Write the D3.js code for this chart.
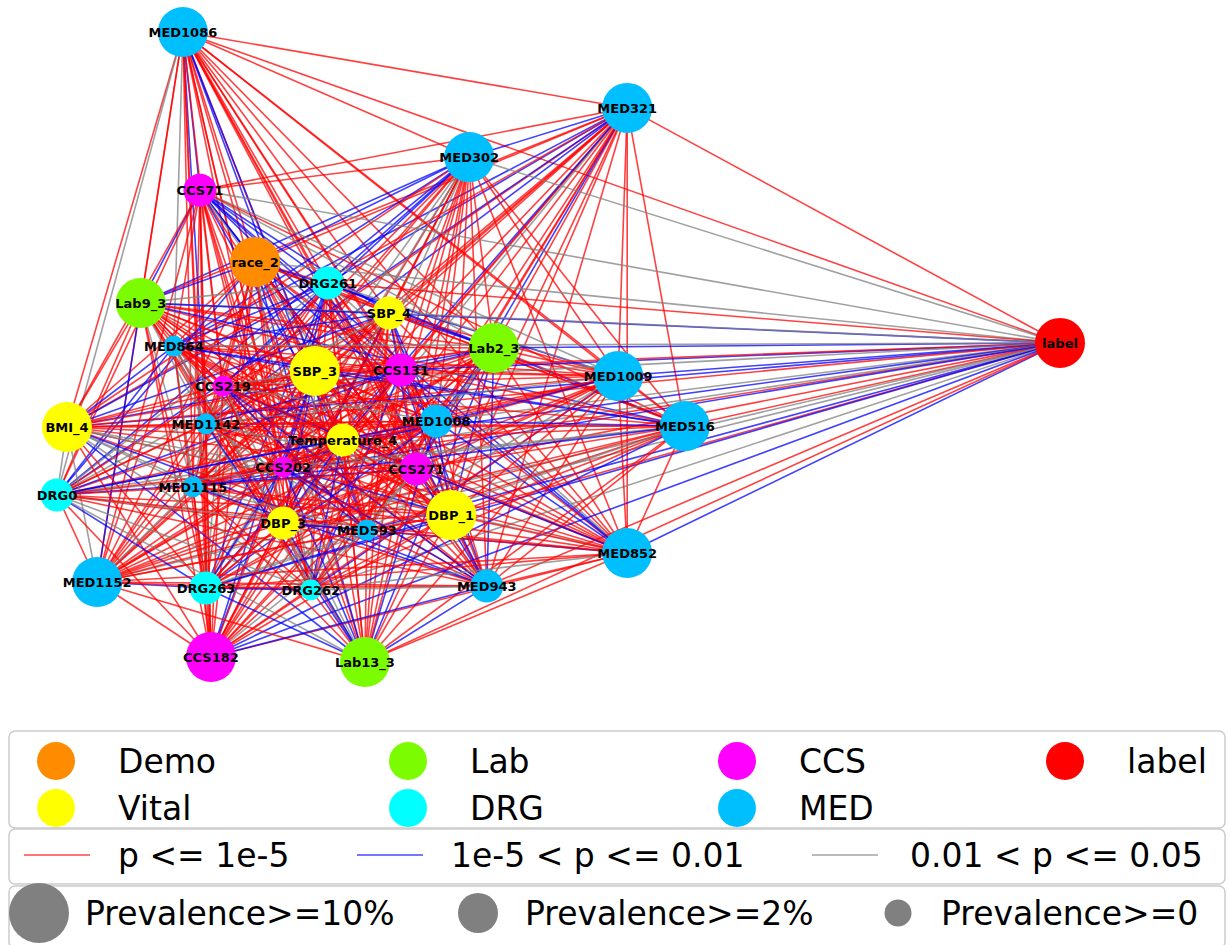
<!DOCTYPE html>
<html><head><meta charset="utf-8">
<script src="https://cdn.jsdelivr.net/npm/d3@7"></script>
<style>body{margin:0;background:#fff}svg{display:block}</style>
</head><body><svg id="chart" width="1230" height="945"></svg>
<script>
// ---------- data ----------
const nodeNames = ["MED1086","MED321","MED302","CCS71","race_2","DRG261","Lab9_3","SBP_4","Lab2_3","label",
  "MED864","CCS131","SBP_3","MED1009","CCS219","BMI_4","MED1142","MED1008","MED516","Temperature_4",
  "CCS202","CCS271","DRG0","MED1115","DBP_1","DBP_3","MED593","MED852","MED1152","DRG263",
  "DRG262","MED943","CCS182","Lab13_3"];
const nodeGroups = ["MED","MED","MED","CCS","Demo","DRG","Lab","Vital","Lab","label",
  "MED","CCS","Vital","MED","CCS","Vital","MED","MED","MED","Vital",
  "CCS","CCS","DRG","MED","Vital","Vital","MED","MED","MED","DRG",
  "DRG","MED","CCS","Lab"];
const nodePrevalence = ["10%","10%","10%","2%","10%","2%","10%","2%","10%","10%",
  "0","2%","10%","10%","0","10%","0","2%","10%","2%",
  "0","2%","2%","0","10%","2%","0","10%","10%","2%",
  "0","2%","10%","10%"];
// layout coordinates (spring layout space, y up)
const layoutX = [-0.749,0.137,-0.178,-0.715,-0.605,-0.460,-0.833,-0.338,-0.129,1.000,
  -0.767,-0.314,-0.486,0.119,-0.669,-0.980,-0.703,-0.244,0.252,-0.430,
  -0.549,-0.284,-1.000,-0.729,-0.214,-0.549,-0.382,0.137,-0.920,-0.703,
  -0.494,-0.143,-0.693,-0.386];
const layoutY = [1.000,0.759,0.603,0.498,0.270,0.203,0.140,0.108,-0.003,0.013,
  0.003,-0.073,-0.076,-0.092,-0.124,-0.254,-0.244,-0.235,-0.251,-0.295,
  -0.381,-0.387,-0.470,-0.444,-0.533,-0.559,-0.581,-0.654,-0.746,-0.765,
  -0.771,-0.759,-0.984,-1.000];
// p-value class of edge i-j (upper triangle, row i lists j=i+1..33): 1: p<=1e-5, 2: 1e-5<p<=0.01, 3: 0.01<p<=0.05, 0: none
const pClassRows = [
  "11211 11113 11111 21121 13111 21111 111",
  "21121 11121 11112 11112 21131 11211 11",
  "12223 13213 12111 13112 11111 13111 1",
  "22223 31213 11121 21211 21121 11311",
  "12113 11121 11211 11211 12111 3112",
  "31212 11322 11212 13121 13121 121",
  "31211 11113 12111 13111 12111 11",
  "23211 11212 11123 11211 13121 1",
  "21211 12121 11211 21311 13212",
  "32123 21312 11321 32232 3121",
  "12112 31213 12313 11131 113",
  "11112 11211 21211 21121 11",
  "13111 21211 11211 11312 1",
  "11311 11112 11311 12111",
  "11311 12111 12113 1213",
  "11113 13313 13313 212",
  "11113 13113 11131 12",
  "21112 12112 12111 2",
  "13132 11111 31121",
  "11211 21111 2111",
  "11121 21121 212",
  "21113 21132 11",
  "11131 12311 3",
  "11313 11211",
  "11112 1211",
  "12113 112",
  "11311 31",
  "11311 1",
  "21111",
  "2112",
  "311",
  "22",
  "0"
];
const groupOrder = ["Demo","Vital","Lab","DRG","CCS","MED","label"];
const groupColors = ["#ff8c00","#ffff00","#7cfc00","#00ffff","#ff00ff","#00bfff","#ff0000"];
const pClassCodes = ["1","2","3"];
const pClassLabels = ["p <= 1e-5","1e-5 < p <= 0.01","0.01 < p <= 0.05"];
const pClassColors = ["#ff0000","#0000ff","#808080"];
const prevalenceLevels = ["10%","2%","0"];
const prevalenceLabels = ["Prevalence>=10%","Prevalence>=2%","Prevalence>=0"];

// ---------- build ----------
const nodes = nodeNames.map((n,i)=>({id:n, group:nodeGroups[i], prev:nodePrevalence[i], lx:layoutX[i], ly:layoutY[i]}));
const edges = [];
pClassRows.forEach((row,i)=>{
  const s = row.replace(/\s/g,"");
  for (let k=0;k<s.length;k++){
    const c = s[k];
    if (c !== "0" && nodes[i+1+k]) edges.push({source:nodes[i], target:nodes[i+1+k], p:c});
  }
});

const svg = d3.select("#chart");
svg.append("rect").attr("width",1230).attr("height",945).attr("fill","#fff");

const x = d3.scaleLinear().domain([-1,1]).range([57,1060]);
const y = d3.scaleLinear().domain([-1,1]).range([662,32]);
const color = d3.scaleOrdinal(groupOrder, groupColors);
const edgeColor = d3.scaleOrdinal(pClassCodes, pClassColors);
const radius = d3.scaleOrdinal(prevalenceLevels, [25,16.5,10.5]);
const legendRadius = d3.scaleOrdinal(prevalenceLevels, [30,20,13.5]);

const g = svg.append("g");
g.append("g").selectAll("line").data(edges).join("line")
  .attr("x1",d=>x(d.source.lx)).attr("y1",d=>y(d.source.ly))
  .attr("x2",d=>x(d.target.lx)).attr("y2",d=>y(d.target.ly))
  .attr("stroke",d=>edgeColor(d.p)).attr("stroke-width",1.6).attr("stroke-opacity",0.75);

g.append("g").selectAll("circle").data(nodes).join("circle")
  .attr("cx",d=>x(d.lx)).attr("cy",d=>y(d.ly)).attr("r",d=>radius(d.prev))
  .attr("fill",d=>color(d.group));

g.append("g").selectAll("text").data(nodes).join("text")
  .attr("x",d=>x(d.lx)).attr("y",d=>y(d.ly)).attr("dy","0.36em")
  .attr("text-anchor","middle")
  .style("font-family","DejaVu Sans, sans-serif").style("font-weight","bold").style("font-size","13px")
  .attr("fill","#000").text(d=>d.id);

// ---------- legends ----------
const lg = svg.append("g").style("font-family","DejaVu Sans, sans-serif").style("font-size","33px");
const boxes = [[9,731,1216,97],[9,829,1216,55],[9,886,1216,62]];
lg.selectAll("rect.box").data(boxes).join("rect").attr("class","box")
  .attr("x",d=>d[0]).attr("y",d=>d[1]).attr("width",d=>d[2]).attr("height",d=>d[3])
  .attr("rx",6).attr("fill","#fff").attr("fill-opacity",0.8).attr("stroke","#cccccc").attr("stroke-width",1.5);

const colX = [56,408,737,1065];
const rowY = [761,808];
const gl = lg.append("g").selectAll("g").data(groupOrder).join("g")
  .attr("transform",(d,i)=>`translate(${colX[Math.floor(i/2)]},${rowY[i%2]})`);
gl.append("circle").attr("r",19).attr("fill",d=>color(d));
gl.append("text").attr("x",62).attr("dy","0.36em").text(d=>d);

const lineX = [24,357,812];
const pl = lg.append("g").selectAll("g").data(pClassCodes).join("g")
  .attr("transform",(d,i)=>`translate(${lineX[i]},855)`);
pl.append("line").attr("x1",0).attr("x2",66).attr("stroke",d=>edgeColor(d)).attr("stroke-width",1.6).attr("stroke-opacity",0.72);
pl.append("text").attr("x",(d,i)=>[94,94,98][i]).attr("dy","0.36em").text((d,i)=>pClassLabels[i]);

const prevX = [39,478,898];
const pv = lg.append("g").selectAll("g").data(prevalenceLevels).join("g")
  .attr("transform",(d,i)=>`translate(${prevX[i]},913)`);
pv.append("circle").attr("r",d=>legendRadius(d)).attr("fill","#808080");
pv.append("text").attr("x",(d,i)=>[46,47,43][i]).attr("dy","0.36em").text((d,i)=>prevalenceLabels[i]);
</script>
</body></html>
